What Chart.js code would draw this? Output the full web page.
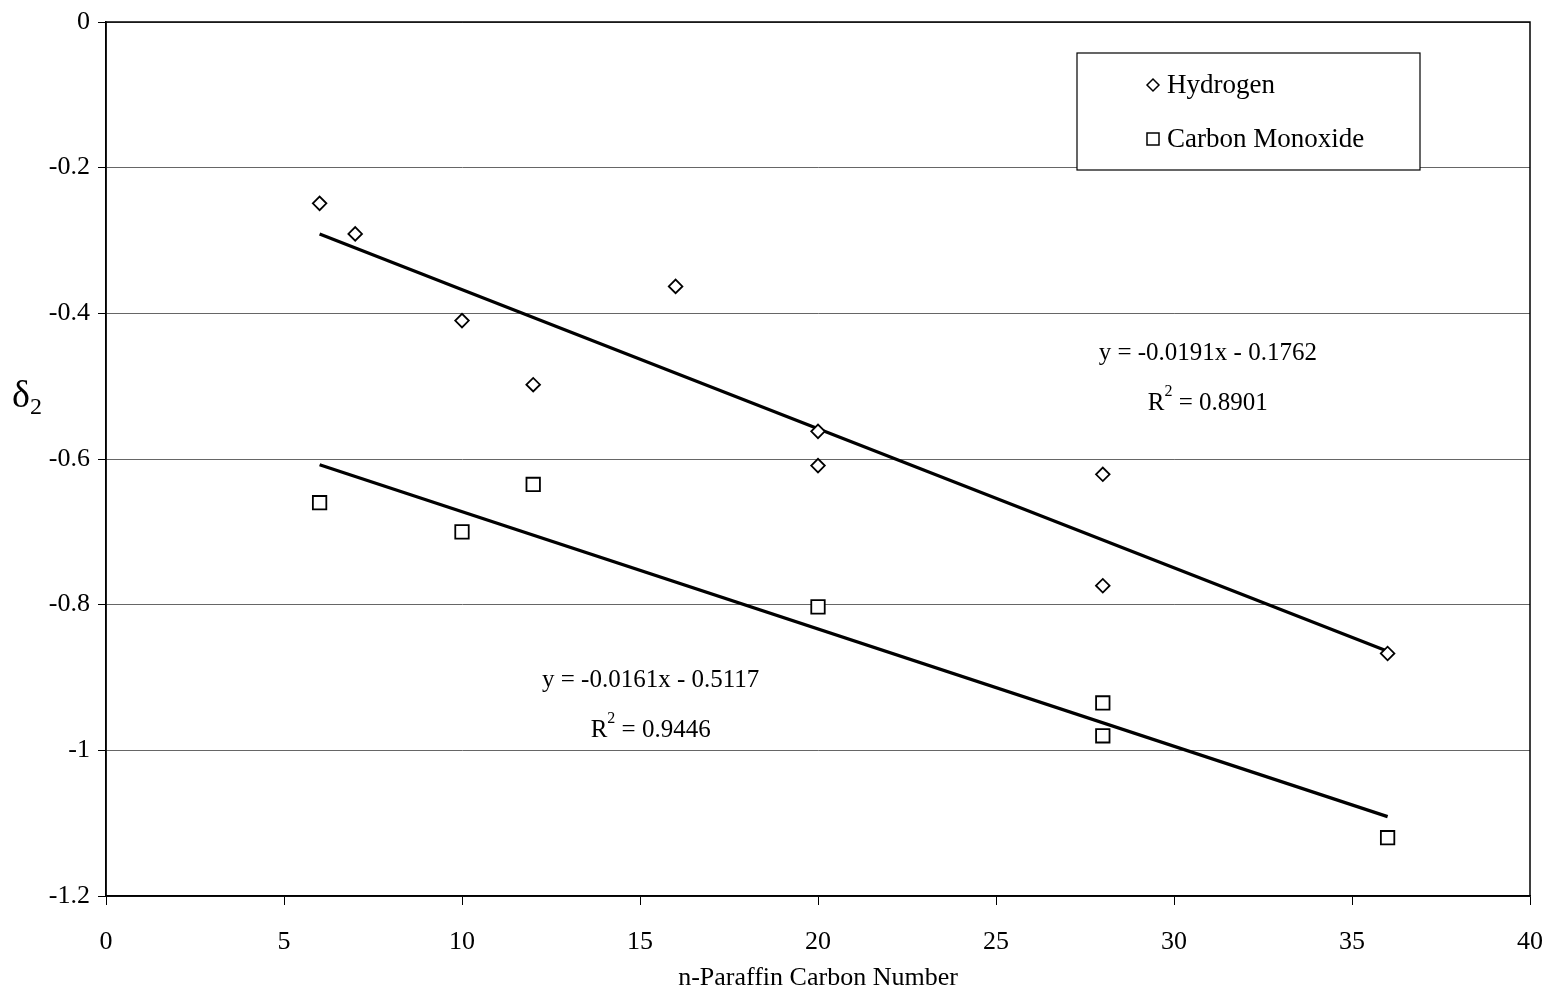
<!DOCTYPE html>
<html>
<head>
<meta charset="utf-8">
<script src="https://cdn.jsdelivr.net/npm/chart.js@4.4.1/dist/chart.umd.min.js"></script>
<style>
  html, body { margin: 0; padding: 0; background: #fff; }
  #wrap { width: 1551px; height: 994px; }
</style>
</head>
<body>
<div id="wrap"><canvas id="chart"></canvas></div>
<script>
// values
var h2X = [6, 7, 10, 12, 16, 20, 20, 28, 28, 36];
var h2Y = [-0.249, -0.291, -0.410, -0.498, -0.363, -0.562, -0.609, -0.621, -0.774, -0.867];
var coX = [6, 10, 12, 20, 28, 28, 36];
var coY = [-0.660, -0.700, -0.635, -0.803, -0.935, -0.980, -1.120];
// trend line ends
var h2FitX = [6, 36];
var h2FitY = [-0.291, -0.864];
var coFitX = [6, 36];
var coFitY = [-0.608, -1.091];
var seriesNames = ["Hydrogen", "Carbon Monoxide"];
var fitText = [
    ["y = -0.0191x - 0.1762", "0.8901"],
    ["y = -0.0161x - 0.5117", "0.9446"]
];

var FONT = "'Liberation Serif', 'Times New Roman', serif";

function pts(xs, ys) {
    var out = [];
    for (var i = 0; i < xs.length; i++) out.push({ x: xs[i], y: ys[i] });
    return out;
}

var extras = {
    id: "extras",
    afterDraw: function (chart) {
        var ctx = chart.ctx;
        var a = chart.chartArea;
        var xs = chart.scales.x, ys = chart.scales.y;
        ctx.save();
        // frame right + top
        ctx.strokeStyle = "#000";
        ctx.lineWidth = 1.5;
        ctx.strokeRect(a.left, a.top, a.right - a.left, a.bottom - a.top);

        // y title: delta with subscript 2
        ctx.fillStyle = "#000";
        ctx.textBaseline = "alphabetic";
        ctx.textAlign = "left";
        ctx.font = "38px " + FONT;
        ctx.fillText("\u03b4", 12, 407);
        ctx.font = "24px " + FONT;
        ctx.fillText("2", 30, 414);

        // fit equations
        function eq(lines, cx, cy) {
            ctx.textAlign = "center";
            ctx.font = "25px " + FONT;
            ctx.fillText(lines[0], cx, cy);
            var rest = " = " + lines[1];
            var wR = ctx.measureText("R").width;
            var wRest = ctx.measureText(rest).width;
            ctx.font = "16px " + FONT;
            var wSup = ctx.measureText("2").width;
            var total = wR + wSup + wRest;
            var x0 = cx - total / 2;
            ctx.textAlign = "left";
            ctx.font = "25px " + FONT;
            ctx.fillText("R", x0, cy + 50);
            ctx.font = "16px " + FONT;
            ctx.fillText("2", x0 + wR, cy + 36);
            ctx.font = "25px " + FONT;
            ctx.fillText(rest, x0 + wR + wSup, cy + 50);
        }
        eq(fitText[0], xs.getPixelForValue(30.95), ys.getPixelForValue(-0.464));
        eq(fitText[1], xs.getPixelForValue(15.3), ys.getPixelForValue(-0.913));

        // legend box
        var lx = 1077, ly = 53, lw = 343, lh = 117;
        ctx.fillStyle = "#fff";
        ctx.fillRect(lx, ly, lw, lh);
        ctx.strokeStyle = "#000";
        ctx.lineWidth = 1.2;
        ctx.strokeRect(lx, ly, lw, lh);
        ctx.fillStyle = "#000";
        ctx.font = "27px " + FONT;
        ctx.textAlign = "left";
        ctx.textBaseline = "middle";
        ctx.lineWidth = 1.5;
        // diamond
        var mx = 1153, my = 85;
        ctx.beginPath();
        ctx.moveTo(mx - 6, my); ctx.lineTo(mx, my - 6); ctx.lineTo(mx + 6, my); ctx.lineTo(mx, my + 6);
        ctx.closePath(); ctx.stroke();
        ctx.fillText(seriesNames[0], 1167, 86);
        // square
        ctx.strokeRect(1147, 133, 12, 12);
        ctx.fillText(seriesNames[1], 1167, 140);
        ctx.restore();
    }
};

new Chart(document.getElementById("chart"), {
    type: "scatter",
    data: {
        datasets: [
            {
                label: seriesNames[0],
                data: pts(h2X, h2Y),
                pointStyle: "rectRot",
                pointRadius: 6.8,
                pointBorderWidth: 1.8,
                pointBorderColor: "#000",
                pointBackgroundColor: "#fff",
                order: 1
            },
            {
                label: seriesNames[1],
                data: pts(coX, coY),
                pointStyle: "rect",
                pointRadius: 9.5,
                pointBorderWidth: 1.8,
                pointBorderColor: "#000",
                pointBackgroundColor: "#fff",
                order: 1
            },
            {
                label: "fitH2",
                data: pts(h2FitX, h2FitY),
                showLine: true,
                borderColor: "#000",
                borderWidth: 3.2,
                pointRadius: 0,
                order: 2
            },
            {
                label: "fitCO",
                data: pts(coFitX, coFitY),
                showLine: true,
                borderColor: "#000",
                borderWidth: 3.2,
                pointRadius: 0,
                order: 2
            }
        ]
    },
    options: {
        responsive: true,
        maintainAspectRatio: false,
        animation: false,
        layout: { padding: { left: 0, top: 22, right: 21, bottom: 0 } },
        plugins: {
            legend: { display: false },
            tooltip: { enabled: false }
        },
        scales: {
            x: {
                type: "linear",
                min: 0, max: 40,
                afterFit: function (s) {
                    s.height = 98;
                    s.paddingLeft = 0;
                    s.paddingRight = 0;
                },
                ticks: {
                    stepSize: 5,
                    color: "#000",
                    padding: 22,
                    font: { family: FONT, size: 26 }
                },
                grid: {
                    drawOnChartArea: false,
                    drawTicks: true,
                    tickLength: 9,
                    color: "#000"
                },
                border: { color: "#000", width: 1.5 },
                title: {
                    display: true,
                    text: "n-Paraffin Carbon Number",
                    color: "#000",
                    padding: { top: 0, bottom: 0 },
                    font: { family: FONT, size: 26 }
                }
            },
            y: {
                type: "linear",
                min: -1.2, max: 0,
                afterFit: function (s) {
                    s.width = 106;
                    s.paddingTop = 0;
                    s.paddingBottom = 0;
                },
                ticks: {
                    stepSize: 0.2,
                    color: "#000",
                    padding: 8,
                    font: { family: FONT, size: 26 },
                    callback: function (v) { return String(Number(v.toFixed(1))); }
                },
                grid: {
                    color: "#666",
                    lineWidth: 1,
                    tickColor: "#000",
                    tickLength: 8
                },
                border: { color: "#000", width: 1.5 }
            }
        }
    },
    plugins: [extras]
});
</script>
</body>
</html>
